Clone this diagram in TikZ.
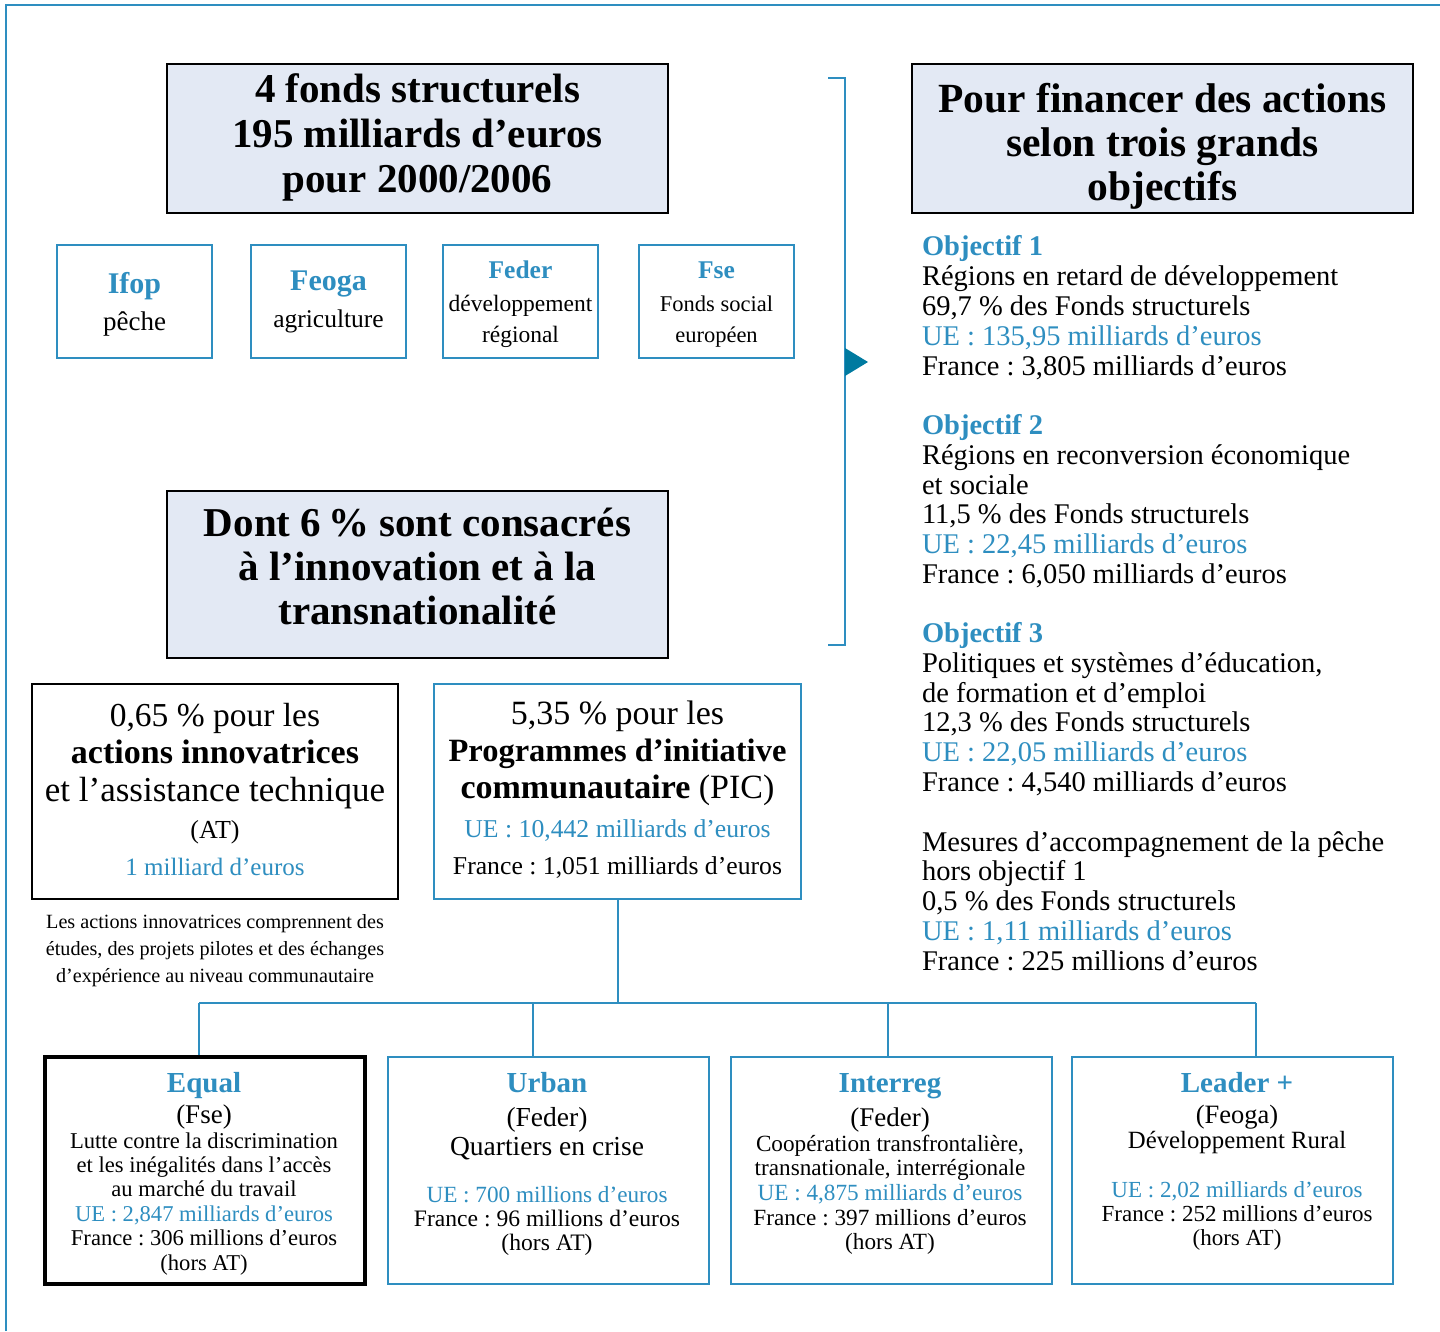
\documentclass[tikz,border=0pt]{standalone}
\usepackage{fontspec}
\setmainfont{Liberation Serif}
\frenchspacing
\definecolor{ublue}{RGB}{46,142,192}
\definecolor{boxfill}{RGB}{227,233,244}
\definecolor{tricol}{RGB}{0,122,160}
\newcommand{\myfs}[1]{\fontsize{#1}{#1}\selectfont\frenchspacing}
\tikzset{
  gbox/.style={draw=black, line width=2pt, fill=boxfill, inner sep=0pt},
  bbox/.style={draw=ublue, line width=2pt, fill=white, inner sep=0pt},
  kbox/.style={draw=black, line width=1.8pt, fill=white, inner sep=0pt},
  kkbox/.style={draw=black, line width=4.5pt, fill=white, inner sep=0pt},
  ln/.style={anchor=base, inner sep=0pt, outer sep=0pt},
  lnl/.style={anchor=base west, inner sep=0pt, outer sep=0pt},
  wire/.style={draw=ublue, line width=2pt},
  hd/.style={font=\myfs{41}\bfseries},
  bt/.style={text=ublue},
  rc/.style={lnl, font=\myfs{28.5}},
  rct/.style={lnl, font=\myfs{28.5}\bfseries, text=ublue},
}
\begin{document}
\begin{tikzpicture}[x=1pt,y=-1pt]
\useasboundingbox (0,0) rectangle (1440,1331);
% outer frame
\draw[ublue, line width=2.5pt] (6,1331) -- (6,5) -- (1440,5);

% heading box
\node[gbox, minimum width=501pt, minimum height=149pt] (fonds) at (417.5,138.5) {};
\node[ln, hd] (fonds1) at (417.5,102) {4 fonds structurels};
\node[ln, hd] (fonds2) at (417.5,147) {195 milliards d’euros};
\node[ln, hd] (fonds3) at (417.5,192) {pour 2000/2006};

% four funds
\node[bbox, minimum width=155pt, minimum height=113pt] (ifop) at (134.5,301.5) {};
\node[ln, font=\myfs{30}\bfseries, bt] (ifop1) at (134.5,293) {Ifop};
\node[ln, font=\myfs{27}] (ifop2) at (134.5,330) {pêche};
\node[bbox, minimum width=155pt, minimum height=113pt] (feoga) at (328.5,301.5) {};
\node[ln, font=\myfs{30}\bfseries, bt] (feoga1) at (328.5,290) {Feoga};
\node[ln, font=\myfs{25.5}] (feoga2) at (328.5,327) {agriculture};
\node[bbox, minimum width=155pt, minimum height=113pt] (feder) at (520.5,301.5) {};
\node[ln, font=\myfs{25.5}\bfseries, bt] (feder1) at (520.5,278) {Feder};
\node[ln, font=\myfs{23.5}] (feder2) at (520.5,311) {développement};
\node[ln, font=\myfs{23.5}] (feder3) at (520.5,342) {régional};
\node[bbox, minimum width=155pt, minimum height=113pt] (fse) at (716.5,301.5) {};
\node[ln, font=\myfs{25.5}\bfseries, bt] (fse1) at (716.5,278) {Fse};
\node[ln, font=\myfs{22.5}] (fse2) at (716.5,311) {Fonds social};
\node[ln, font=\myfs{22.5}] (fse3) at (716.5,342) {européen};

% objectives heading
\node[gbox, minimum width=501pt, minimum height=149pt] (obj) at (1162.5,138.5) {};
\node[ln, font=\myfs{41.5}\bfseries] (obj1) at (1162.5,112) {Pour financer des actions};
\node[ln, font=\myfs{41.5}\bfseries] (obj2) at (1162.5,156) {selon trois grands};
\node[ln, font=\myfs{41.5}\bfseries] (obj3) at (1162.5,200) {objectifs};

% bracket and triangle
\coordinate (brt) at (828,78);
\coordinate (brb) at (828,645);
\draw[wire] (brt) -- (845,78) -- (845,645) -- (brb);
\fill[tricol] (845,348) -- (868,362) -- (845,376) -- cycle;

% objectif 1
\node[rct] (o1t) at (922,255) {Objectif 1};
\node[rc] (o1a) at (922,285) {Régions en retard de développement};
\node[rc] (o1b) at (922,315) {69,7 \% des Fonds structurels};
\node[rc, text=ublue] (o1c) at (922,345) {UE : 135,95 milliards d’euros};
\node[rc] (o1d) at (922,375) {France : 3,805 milliards d’euros};
% objectif 2
\node[rct] (o2t) at (922,434) {Objectif 2};
\node[rc] (o2a) at (922,464) {Régions en reconversion économique};
\node[rc] (o2b) at (922,494) {et sociale};
\node[rc] (o2c) at (922,523) {11,5 \% des Fonds structurels};
\node[rc, text=ublue] (o2d) at (922,553) {UE : 22,45 milliards d’euros};
\node[rc] (o2e) at (922,583) {France : 6,050 milliards d’euros};
% objectif 3
\node[rct] (o3t) at (922,642) {Objectif 3};
\node[rc] (o3a) at (922,672) {Politiques et systèmes d’éducation,};
\node[rc] (o3b) at (922,702) {de formation et d’emploi};
\node[rc] (o3c) at (922,731) {12,3 \% des Fonds structurels};
\node[rc, text=ublue] (o3d) at (922,761) {UE : 22,05 milliards d’euros};
\node[rc] (o3e) at (922,791) {France : 4,540 milliards d’euros};
% mesures
\node[rc] (m1) at (922,851) {Mesures d’accompagnement de la pêche};
\node[rc] (m2) at (922,880) {hors objectif 1};
\node[rc] (m3) at (922,910) {0,5 \% des Fonds structurels};
\node[rc, text=ublue] (m4) at (922,940) {UE : 1,11 milliards d’euros};
\node[rc] (m5) at (922,970) {France : 225 millions d’euros};

% dont 6 %
\node[gbox, minimum width=501pt, minimum height=167pt] (dont) at (417.5,574.5) {};
\node[ln, hd] (dont1) at (417.5,536) {Dont 6\,\% sont consacrés};
\node[ln, hd] (dont2) at (417.5,580) {à l’innovation et à la};
\node[ln, hd] (dont3) at (417.5,624) {transnationalité};

% AT box
\node[kbox, minimum width=366pt, minimum height=215pt] (at) at (215,791.5) {};
\node[ln, font=\myfs{33.5}] (at1) at (215,726) {0,65 \% pour les};
\node[ln, font=\myfs{34}\bfseries] (at2) at (215,763) {actions innovatrices};
\node[ln, font=\myfs{35}] (at3) at (215,801) {et l’assistance technique};
\node[ln, font=\myfs{26}] (at4) at (215,838) {(AT)};
\node[ln, font=\myfs{25}, bt] (at5) at (215,875) {1 milliard d’euros};

% note
\node[ln, font=\myfs{20.2}] (nt1) at (215,928) {Les actions innovatrices comprennent des};
\node[ln, font=\myfs{20.2}] (nt2) at (215,955) {études, des projets pilotes et des échanges};
\node[ln, font=\myfs{20.2}] (nt3) at (215,982) {d’expérience au niveau communautaire};

% PIC box
\node[bbox, minimum width=367pt, minimum height=215pt] (pic) at (617.5,791.5) {};
\node[ln, font=\myfs{34}] (pic1) at (617.5,724) {5,35 \% pour les};
\node[ln, font=\myfs{32.5}\bfseries] (pic2) at (617.5,761) {Programmes d’initiative};
\node[ln, font=\myfs{34}] (pic3) at (617.5,798) {\textbf{communautaire} (PIC)};
\node[ln, font=\myfs{25.7}, bt] (pic4) at (617.5,837) {UE : 10,442 milliards d’euros};
\node[ln, font=\myfs{25.7}] (pic5) at (617.5,874) {France : 1,051 milliards d’euros};

% bottom boxes
\node[kkbox, minimum width=320pt, minimum height=227pt] (equal) at (205,1170.5) {};
\node[ln, font=\myfs{29}\bfseries, bt] (eq1) at (204,1092) {Equal};
\node[ln, font=\myfs{27}] (eq2) at (204,1123) {(Fse)};
\node[ln, font=\myfs{22.6}] (eq3) at (204,1148) {Lutte contre la discrimination};
\node[ln, font=\myfs{22.6}] (eq4) at (204,1172) {et les inégalités dans l’accès};
\node[ln, font=\myfs{22.6}] (eq5) at (204,1196) {au marché du travail};
\node[ln, font=\myfs{22.6}, bt] (eq6) at (204,1221) {UE : 2,847 milliards d’euros};
\node[ln, font=\myfs{22.6}] (eq7) at (204,1245) {France : 306 millions d’euros};
\node[ln, font=\myfs{22.6}] (eq8) at (204,1270) {(hors AT)};

\node[bbox, minimum width=321pt, minimum height=227pt] (urban) at (548.5,1170.5) {};
\node[ln, font=\myfs{29}\bfseries, bt] (ur1) at (547,1092) {Urban};
\node[ln, font=\myfs{27.5}] (ur2) at (547,1126) {(Feder)};
\node[ln, font=\myfs{27.5}] (ur3) at (547,1155) {Quartiers en crise};
\node[ln, font=\myfs{23.2}, bt] (ur4) at (547,1202) {UE : 700 millions d’euros};
\node[ln, font=\myfs{23.6}] (ur5) at (547,1226) {France : 96 millions d’euros};
\node[ln, font=\myfs{23.6}] (ur6) at (547,1250) {(hors AT)};

\node[bbox, minimum width=321pt, minimum height=227pt] (interreg) at (891.5,1170.5) {};
\node[ln, font=\myfs{29}\bfseries, bt] (in1) at (890,1092) {Interreg};
\node[ln, font=\myfs{27}] (in2) at (890,1126) {(Feder)};
\node[ln, font=\myfs{23.2}] (in3) at (890,1151) {Coopération transfrontalière,};
\node[ln, font=\myfs{23.2}] (in4) at (890,1175) {transnationale, interrégionale};
\node[ln, font=\myfs{23.2}, bt] (in5) at (890,1200) {UE : 4,875 milliards d’euros};
\node[ln, font=\myfs{23.2}] (in6) at (890,1225) {France : 397 millions d’euros};
\node[ln, font=\myfs{23.2}] (in7) at (890,1249) {(hors AT)};

\node[bbox, minimum width=321pt, minimum height=227pt] (leader) at (1232.5,1170.5) {};
\node[ln, font=\myfs{29}\bfseries, bt] (le1) at (1237,1092) {Leader +};
\node[ln, font=\myfs{26.5}] (le2) at (1237,1123) {(Feoga)};
\node[ln, font=\myfs{24.8}] (le3) at (1237,1148) {Développement Rural};
\node[ln, font=\myfs{23}, bt] (le4) at (1237,1197) {UE : 2,02 milliards d’euros};
\node[ln, font=\myfs{23}] (le5) at (1237,1221) {France : 252 millions d’euros};
\node[ln, font=\myfs{23}] (le6) at (1237,1245) {(hors AT)};

% connectors
\coordinate (bus) at (617.5,1003);
\coordinate (j1) at (199,1003);
\coordinate (j2) at (533,1003);
\coordinate (j3) at (888,1003);
\coordinate (j4) at (1256,1003);
\draw[wire] (pic.south) -- (bus);
\draw[wire] (j1) -- (j4);
\draw[wire] (j1) -- (j1 |- equal.north);
\draw[wire] (j2) -- (j2 |- urban.north);
\draw[wire] (j3) -- (j3 |- interreg.north);
\draw[wire] (j4) -- (j4 |- leader.north);
\end{tikzpicture}
\end{document}
